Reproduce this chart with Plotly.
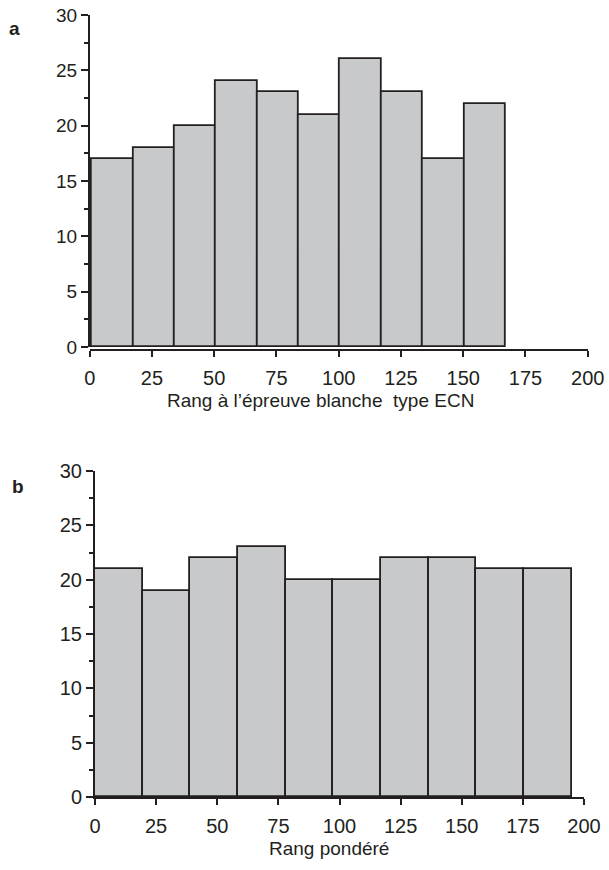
import plotly.graph_objects as go

# ---- data ----
bin_edges_a = [1, 17.6, 34.2, 50.8, 67.4, 84, 100.6, 117.2, 133.8, 150.4, 167]
counts_a = [17, 18, 20, 24, 23, 21, 26, 23, 17, 22]
bin_edges_b = [0, 19.5, 39, 58.5, 78, 97.5, 117, 136.5, 156, 175.5, 195]
counts_b = [21, 19, 22, 23, 20, 20, 22, 22, 21, 21]
x_ticks = [0, 25, 50, 75, 100, 125, 150, 175, 200]
y_ticks = [0, 5, 10, 15, 20, 25, 30]
title_a = "Rang à l’épreuve blanche  type ECN"
title_b = "Rang pondéré"

W, H = 609, 870


def centers(edges):
    return [(edges[i] + edges[i + 1]) / 2 for i in range(len(edges) - 1)]


def widths(edges):
    return [edges[i + 1] - edges[i] for i in range(len(edges) - 1)]


def px(x):
    return x / W


def py(y):
    return 1 - y / H


FILL = "#c8c9cb"
EDGE = "#231f20"
FONT = "Liberation Sans, Arial, sans-serif"

fig = go.Figure()
fig.add_trace(go.Bar(x=centers(bin_edges_a), y=counts_a, width=widths(bin_edges_a),
                     marker=dict(color=FILL, line=dict(color=EDGE, width=1.8)),
                     xaxis="x", yaxis="y", showlegend=False, hoverinfo="skip"))
fig.add_trace(go.Bar(x=centers(bin_edges_b), y=counts_b, width=widths(bin_edges_b),
                     marker=dict(color=FILL, line=dict(color=EDGE, width=1.8)),
                     xaxis="x2", yaxis="y2", showlegend=False, hoverinfo="skip"))

axis_common = dict(showgrid=False, zeroline=False, showline=True, linecolor=EDGE,
                   linewidth=2, ticks="outside", tickcolor=EDGE, tickwidth=1.6,
                   automargin=False,
                   tickfont=dict(family=FONT, size=20, color="#231f20"))

xa = dict(axis_common, range=[0, 200], tickvals=x_ticks, ticklen=6, ticklabelstandoff=4)
ya = dict(axis_common, range=[0, 30], tickvals=y_ticks, ticklen=7,
          minor=dict(dtick=2.5, tick0=0, ticklen=4, ticks="outside", tickcolor=EDGE, tickwidth=1.6))

title_font = dict(family=FONT, size=19, color="#231f20")

fig.update_layout(
    width=W, height=H, paper_bgcolor="white", plot_bgcolor="white",
    margin=dict(l=0, r=0, t=0, b=0, autoexpand=False), bargap=0,
    xaxis=dict(xa, domain=[px(89.7), px(587.7)], anchor="free", position=py(350)),
    yaxis=dict(ya, domain=[py(347), py(15)], anchor="free", position=px(89),
               tickfont=dict(family=FONT, size=19, color="#231f20")),
    xaxis2=dict(xa, domain=[px(95), px(584)], anchor="y2"),
    yaxis2=dict(ya, domain=[py(797), py(471)], anchor="x2"),
    annotations=[
        dict(text="<b>a</b>", x=px(14.5), y=py(28.5), xref="paper", yref="paper",
             xanchor="center", yanchor="middle",
             showarrow=False, font=dict(family=FONT, size=19, color="#231f20")),
        dict(text="<b>b</b>", x=px(18), y=py(486), xref="paper", yref="paper",
             xanchor="center", yanchor="middle",
             showarrow=False, font=dict(family=FONT, size=19, color="#231f20")),
        dict(text=title_a, x=px(320), y=py(400), xref="paper", yref="paper",
             xanchor="center", yanchor="middle", showarrow=False, font=title_font),
        dict(text=title_b, x=px(329), y=py(848), xref="paper", yref="paper",
             xanchor="center", yanchor="middle", showarrow=False, font=title_font),
    ],
)

fig.write_html("out.html", config={"displayModeBar": False},
               post_script="document.body.style.margin='0';document.body.style.overflow='hidden';")
